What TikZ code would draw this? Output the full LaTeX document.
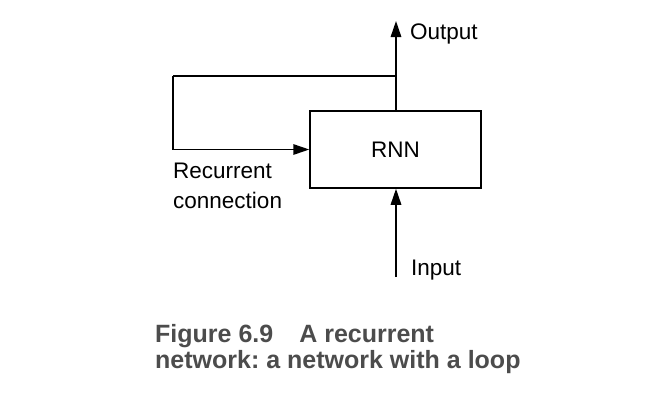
\documentclass[tikz,border=0pt]{standalone}
\usepackage{fontspec}
\setmainfont{Liberation Sans}
\usetikzlibrary{arrows.meta}
\frenchspacing
\begin{document}
\begin{tikzpicture}[x=1pt,y=-1pt,
  line/.style={line width=1.5pt},
  arr/.style={line width=1.5pt,-{Triangle[length=16pt,width=10.5pt]}},
  lbl/.style={inner sep=0pt,anchor=base west,font=\fontsize{22.5}{26}\selectfont},
  captxt/.style={inner sep=0pt,anchor=base west,text=black!70,font=\fontsize{25}{26}\selectfont\bfseries}]
\useasboundingbox (0,0) rectangle (650,400);
\node[draw,line width=1.5pt,minimum width=171pt,minimum height=77pt,inner sep=0pt,
  font=\fontsize{22.5}{26}\selectfont] (rnn) at (395.5,149.5) {RNN};
\coordinate (outtip) at (396,21);
\coordinate (intail) at (396,277);
\coordinate (junc) at (396,76);
\coordinate (loopl) at (173,76);
\draw[arr] (rnn.north -| outtip) -- (outtip);
\draw[arr] (loopl |- junc) -- (loopl) |- (rnn.west);
\draw[line] (junc) -- (loopl);
\draw[arr] (intail) -- (rnn.south -| intail);
\node[lbl] (out) at (410,39) {Output};
\node[lbl] (in) at (411,275) {Input};
\node[lbl] (rec) at (173,178) {Recurrent};
\node[lbl] (con) at (173,208) {connection};
\node[captxt] (c1) at (155,342) {Figure 6.9\hspace{26pt}A recurrent};
\node[captxt] (c2) at (155,368) {network: a network with a loop};
\end{tikzpicture}
\end{document}
